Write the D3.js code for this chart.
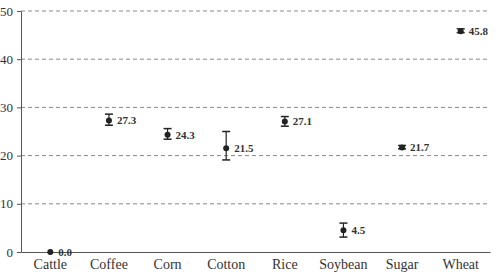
<!DOCTYPE html>
<meta charset="utf-8">
<script src="https://cdn.jsdelivr.net/npm/d3@7"></script>
<style>
  body { margin: 0; background: #fff; }
  text { font-family: "Liberation Serif", serif; }
</style>
<body>
<div id="chart"></div>
<script>
// data
var crops = ["Cattle", "Coffee", "Corn", "Cotton", "Rice", "Soybean", "Sugar", "Wheat"];
var means = [0.0, 27.3, 24.3, 21.5, 27.1, 4.5, 21.7, 45.8];
var lows  = [0.0, 26.3, 23.4, 19.1, 26.1, 3.1, 21.4, 45.5];
var highs = [0.0, 28.6, 25.6, 25.0, 28.1, 6.0, 22.1, 46.3];
var yTicks = [0, 10, 20, 30, 40, 50];

var W = 499, H = 275;
var margin = {top: 11, right: 9, bottom: 23, left: 21};
var width = W - margin.left - margin.right,
    height = H - margin.top - margin.bottom;

var svg = d3.select("#chart").append("svg")
    .attr("width", W).attr("height", H)
  .append("g")
    .attr("transform", "translate(" + margin.left + "," + margin.top + ")");

var x = d3.scaleBand().domain(crops).range([0, width]);
var y = d3.scaleLinear().domain([0, 50]).range([height, 0]);

// dashed grid
svg.selectAll(".grid").data(yTicks.filter(d => d > 0)).enter()
  .append("line")
    .attr("x1", 0).attr("x2", width)
    .attr("y1", d => y(d)).attr("y2", d => y(d))
    .attr("stroke", "#888").attr("stroke-width", 1)
    .attr("stroke-dasharray", "4,3");

// y axis
var yAxis = svg.append("g")
    .call(d3.axisLeft(y).tickValues(yTicks).tickSize(4).tickPadding(4).tickSizeOuter(0));
yAxis.selectAll("text").style("font-size", "13px").attr("fill", "#333");
yAxis.select(".domain").attr("stroke", "#555");
yAxis.selectAll(".tick line").attr("stroke", "#555");

// x axis
var xAxis = svg.append("g")
    .attr("transform", "translate(0," + height + ")")
    .call(d3.axisBottom(x).tickSize(0).tickPadding(7).tickSizeOuter(0));
xAxis.selectAll("text").style("font-size", "14px").attr("fill", "#333");
xAxis.select(".domain").attr("stroke", "#555");

var rows = crops.map((c, i) => ({c: c, m: means[i], lo: lows[i], hi: highs[i]}));
var cx = d => x(d.c) + x.bandwidth() / 2;

var g = svg.selectAll(".pt").data(rows).enter().append("g");

g.append("line")
    .attr("x1", cx).attr("x2", cx)
    .attr("y1", d => y(d.lo)).attr("y2", d => y(d.hi))
    .attr("stroke", "#222").attr("stroke-width", 1.2);
g.append("line")
    .attr("x1", d => cx(d) - 4).attr("x2", d => cx(d) + 4)
    .attr("y1", d => y(d.hi)).attr("y2", d => y(d.hi))
    .attr("stroke", "#222").attr("stroke-width", 1.5)
    .style("display", d => d.hi > d.lo ? null : "none");
g.append("line")
    .attr("x1", d => cx(d) - 4).attr("x2", d => cx(d) + 4)
    .attr("y1", d => y(d.lo)).attr("y2", d => y(d.lo))
    .attr("stroke", "#222").attr("stroke-width", 1.5)
    .style("display", d => d.hi > d.lo ? null : "none");
g.append("circle")
    .attr("cx", cx).attr("cy", d => y(d.m))
    .attr("r", 3).attr("fill", "#222");
g.append("text")
    .attr("x", d => cx(d) + 8).attr("y", d => y(d.m))
    .attr("dy", "0.35em")
    .style("font-size", "11px").style("font-weight", "bold")
    .attr("fill", "#333")
    .text(d => d.m.toFixed(1));
</script>
</body>
